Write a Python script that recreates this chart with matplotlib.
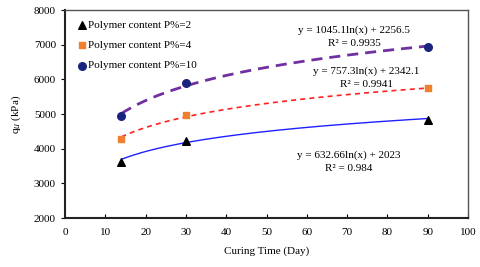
import numpy as np
import matplotlib
matplotlib.use("Agg")
import matplotlib.pyplot as plt

plt.rcParams['font.family'] = ['Liberation Serif', 'DejaVu Serif']

days = [14, 30, 90]
p2 = [3620, 4230, 4830]
p4 = [4290, 4970, 5740]
p10 = [4950, 5900, 6920]
labels = ["Polymer content P%=2", "Polymer content P%=4", "Polymer content P%=10"]
fit2 = (632.66, 2023)
fit4 = (757.3, 2342.1)
fit10 = (1045.1, 2256.5)

fig = plt.figure(figsize=(4.8, 2.67), dpi=100)
ax = fig.add_axes([65/480, 1-218/267, 403/480, 208/267])

xs = np.linspace(14, 90, 200)
ax.plot(xs, fit10[0]*np.log(xs)+fit10[1], color='#7030A0', ls=(0, (4, 2.5)), lw=2)
ax.plot(xs, fit4[0]*np.log(xs)+fit4[1], color='#FF2020', ls=(0, (3, 2.5)), lw=1.2)
ax.plot(xs, fit2[0]*np.log(xs)+fit2[1], color='#2020FF', ls='-', lw=1)

ax.scatter(days, p2, marker='^', color='black', s=30, zorder=3, label=labels[0])
ax.scatter(days, p4, marker='s', color='#F08030', s=24, zorder=3, label=labels[1])
ax.scatter(days, p10, marker='o', color='#1A237E', s=30, zorder=3, label=labels[2])

ax.set_xlim(0, 100)
ax.set_ylim(2000, 8000)
ax.set_xticks(range(0, 101, 10))
ax.set_yticks(range(2000, 8001, 1000))
ax.tick_params(axis='x', direction='in', labelsize=8, length=3, pad=7)
ax.tick_params(axis='y', direction='out', labelsize=8, length=3)
for s in ['left', 'bottom']:
    ax.spines[s].set_linewidth(1.5)
    ax.spines[s].set_color('#222222')
for s in ['top', 'right']:
    ax.spines[s].set_linewidth(1)
    ax.spines[s].set_color('#555555')

ax.set_xlabel("Curing Time (Day)", fontsize=8, labelpad=7)
ax.set_ylabel("q$_u$ (kPa)", fontsize=8, labelpad=8)

leg = ax.legend(loc='upper left', frameon=False, fontsize=8, handletextpad=0.0,
                borderaxespad=0.5, labelspacing=0.95, handlelength=1.2)

ax.text(71.8, 7423, "y = 1045.1ln(x) + 2256.5", ha='center', va='center', fontsize=8)
ax.text(71.8, 7048, "R² = 0.9935", ha='center', va='center', fontsize=8)
ax.text(74.8, 6240, "y = 757.3ln(x) + 2342.1", ha='center', va='center', fontsize=8)
ax.text(74.8, 5865, "R² = 0.9941", ha='center', va='center', fontsize=8)
ax.text(70.5, 3817, "y = 632.66ln(x) + 2023", ha='center', va='center', fontsize=8)
ax.text(70.5, 3442, "R² = 0.984", ha='center', va='center', fontsize=8)

fig.savefig("out.png", dpi=100)
